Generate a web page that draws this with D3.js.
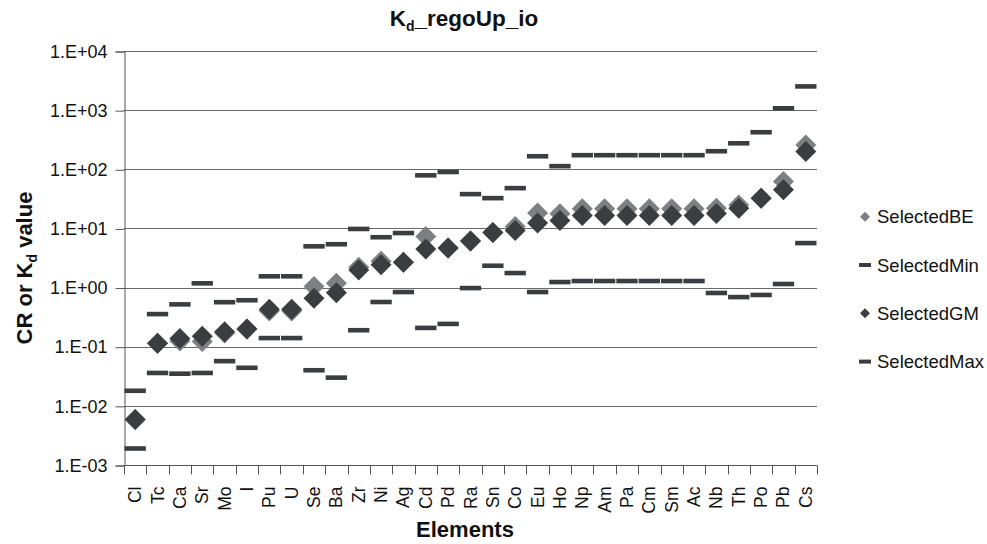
<!DOCTYPE html>
<html>
<head>
<meta charset="utf-8">
<script src="https://cdn.jsdelivr.net/npm/d3@7"></script>
<style>
  html, body { margin: 0; padding: 0; background: #fff; }
  svg { display: block; font-family: "Liberation Sans", Arial, sans-serif; }
</style>
</head>
<body>
<svg id="chart" width="987" height="544"></svg>
<script>
// Elements on the x axis
const elements = ["Cl","Tc","Ca","Sr","Mo","I","Pu","U","Se","Ba","Zr","Ni","Ag","Cd","Pd",
  "Ra","Sn","Co","Eu","Ho","Np","Am","Pa","Cm","Sm","Ac","Nb","Th","Po","Pb","Cs"];

// Best estimate
const selectedBE = [0.0059,0.114,0.125,0.123,0.17,0.20,0.40,0.40,1.04,1.18,2.2,2.8,2.67,7.3,4.65,
  6.1,8.55,10.8,18.2,17.7,21.5,21.5,21.5,21.5,21.5,21.5,22,25,32.5,62,258];

// Minimum
const selectedMin = [0.0019,0.036,0.035,0.036,0.057,0.044,0.14,0.14,0.040,0.030,0.19,0.57,0.84,0.208,0.243,
  0.98,2.34,1.76,0.84,1.24,1.29,1.29,1.29,1.29,1.29,1.29,0.81,0.69,0.75,1.15,5.65];

// Geometric mean
const selectedGM = [0.0059,0.114,0.138,0.151,0.179,0.20,0.43,0.43,0.66,0.82,1.98,2.44,2.67,4.48,4.65,
  6.1,8.55,9.25,12.3,13.6,16.6,16.6,16.6,16.6,16.6,16.6,17.9,22,32.5,45,200];

// Maximum
const selectedMax = [0.018,0.356,0.52,1.18,0.566,0.61,1.55,1.55,4.98,5.4,9.8,7.1,8.35,79,90,
  38,32.5,48,166,113,173,173,173,173,173,173,202,275,423,1075,2520];

// Decade ticks on the log axis
const yTickValues = [1e-3,1e-2,1e-1,1e0,1e1,1e2,1e3,1e4];
const yTickLabels = ["1.E-03","1.E-02","1.E-01","1.E+00","1.E+01","1.E+02","1.E+03","1.E+04"];

const colGM = "#3b3e41";
const colBE = "#7d7f82";
const colBar = "#3b3e41";
const colGrid = "#6a6a6a";

const svg = d3.select("#chart");
const plot = { left: 124, right: 817, top: 51, bottom: 465 };

const x = d3.scaleBand().domain(elements).range([plot.left, plot.right]).padding(0);
const y = d3.scaleLog().domain([1e-3, 1e4]).range([plot.bottom, plot.top]);

// Horizontal gridlines
svg.append("g").selectAll("line").data(yTickValues.slice(1)).join("line")
  .attr("x1", plot.left).attr("x2", plot.right)
  .attr("y1", d => Math.round(y(d)) + 0.5).attr("y2", d => Math.round(y(d)) + 0.5)
  .attr("stroke", colGrid).attr("stroke-width", 1);

// Y axis
const yAxis = d3.axisLeft(y).tickValues(yTickValues)
  .tickFormat((d, i) => yTickLabels[i]).tickSize(9).tickPadding(8);
const gy = svg.append("g").attr("transform", `translate(${plot.left + 0.5},0.5)`).call(yAxis);
gy.select(".domain").attr("stroke", "#555");
gy.selectAll(".tick line").attr("stroke", "#555");
gy.selectAll(".tick text").attr("font-size", 18).attr("fill", "#111")
  .attr("font-family", "'Liberation Sans', Arial, sans-serif");

// X axis with ticks at category boundaries
const gx = svg.append("g").attr("transform", `translate(0,${plot.bottom + 0.5})`);
gx.append("line").attr("x1", plot.left).attr("x2", plot.right).attr("y1", 0).attr("y2", 0)
  .attr("stroke", "#555");
const boundaries = elements.map(e => x(e)).concat([plot.right]);
gx.selectAll("line.tk").data(boundaries).join("line").attr("class", "tk")
  .attr("x1", d => Math.round(d) + 0.5).attr("x2", d => Math.round(d) + 0.5)
  .attr("y1", 0).attr("y2", 9).attr("stroke", "#555");
gx.selectAll("text").data(elements).join("text")
  .attr("transform", d => `translate(${x(d) + x.bandwidth() / 2 + 6},21) rotate(-90)`)
  .attr("text-anchor", "end")
  .attr("font-size", 17.5).attr("fill", "#111")
  .text(d => d);

const bw = x.bandwidth();
const cx = i => x(elements[i]) + bw / 2;
const diamondPath = r => `M0,${-r}L${r},0L0,${r}L${-r},0Z`;

// SelectedBE
svg.append("g").selectAll("path").data(selectedBE).join("path")
  .attr("d", diamondPath(10.5))
  .attr("transform", (d, i) => `translate(${cx(i)},${y(d)})`)
  .attr("fill", colBE);

// SelectedMin
svg.append("g").selectAll("rect").data(selectedMin).join("rect")
  .attr("x", (d, i) => cx(i) - (bw - 1) / 2).attr("width", bw - 1)
  .attr("y", d => y(d) - 2.3).attr("height", 4.6)
  .attr("fill", colBar);

// SelectedGM
svg.append("g").selectAll("path").data(selectedGM).join("path")
  .attr("d", diamondPath(10.5))
  .attr("transform", (d, i) => `translate(${cx(i)},${y(d)})`)
  .attr("fill", colGM);

// SelectedMax
svg.append("g").selectAll("rect").data(selectedMax).join("rect")
  .attr("x", (d, i) => cx(i) - (bw - 1) / 2).attr("width", bw - 1)
  .attr("y", d => y(d) - 2.3).attr("height", 4.6)
  .attr("fill", colBar);

// Title
const title = svg.append("text").attr("x", 464).attr("y", 26).attr("text-anchor", "middle")
  .attr("font-size", 22.5).attr("font-weight", "bold").attr("fill", "#111");
title.append("tspan").text("K");
title.append("tspan").attr("font-size", 14).attr("dy", 5).text("d");
title.append("tspan").attr("dy", -5).text("_regoUp_io");

// X axis title
svg.append("text").attr("x", 465).attr("y", 537).attr("text-anchor", "middle")
  .attr("font-size", 22).attr("font-weight", "bold").attr("fill", "#111").text("Elements");

// Y axis title
const yt = svg.append("text").attr("transform", "translate(32,268) rotate(-90)")
  .attr("text-anchor", "middle").attr("font-size", 22).attr("font-weight", "bold").attr("fill", "#111");
yt.append("tspan").text("CR or K");
yt.append("tspan").attr("font-size", 14).attr("dy", 5).text("d");
yt.append("tspan").attr("dy", -5).text(" value");

// Legend
const legendItems = [
  { name: "SelectedBE", kind: "diamond", color: colBE },
  { name: "SelectedMin", kind: "dash", color: colBar },
  { name: "SelectedGM", kind: "diamond", color: colGM },
  { name: "SelectedMax", kind: "dash", color: colBar }
];
const lg = svg.append("g").selectAll("g").data(legendItems).join("g")
  .attr("transform", (d, i) => `translate(865,${216.7 + i * 48.3})`);
lg.filter(d => d.kind === "diamond").append("path").attr("d", diamondPath(5)).attr("fill", d => d.color);
lg.filter(d => d.kind === "dash").append("rect").attr("x", -6).attr("y", -2).attr("width", 12).attr("height", 4)
  .attr("fill", d => d.color);
lg.append("text").attr("x", 12).attr("y", 6.5).attr("font-size", 18.5).attr("fill", "#111").text(d => d.name);
</script>
</body>
</html>
